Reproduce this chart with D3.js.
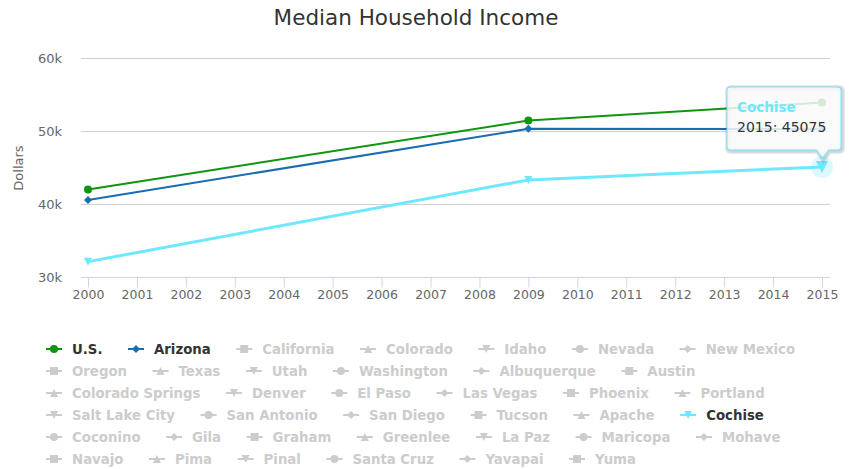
<!DOCTYPE html>
<html>
<head>
<meta charset="utf-8">
<script src="https://cdn.jsdelivr.net/npm/d3@7/dist/d3.min.js"></script>
<style>
  html, body { margin: 0; padding: 0; background: #fff; }
  svg { display: block; font-family: "DejaVu Sans", sans-serif; }
</style>
</head>
<body>
<svg id="chart" width="851" height="469"></svg>
<script>
// ---- data ----
const years = [2000, 2009, 2015];
const usValues = [41994, 51425, 53889];
const arizonaValues = [40558, 50296, 50255];
const cochiseValues = [32105, 43300, 45075];
const yTicks = [30000, 40000, 50000, 60000];
const yTickLabels = ["30k", "40k", "50k", "60k"];
const xTicks = [2000, 2001, 2002, 2003, 2004, 2005, 2006, 2007, 2008, 2009, 2010, 2011, 2012, 2013, 2014, 2015];
const legendNames = ["U.S.", "Arizona", "California", "Colorado", "Idaho", "Nevada", "New Mexico",
  "Oregon", "Texas", "Utah", "Washington", "Albuquerque", "Austin",
  "Colorado Springs", "Denver", "El Paso", "Las Vegas", "Phoenix", "Portland",
  "Salt Lake City", "San Antonio", "San Diego", "Tucson", "Apache", "Cochise",
  "Coconino", "Gila", "Graham", "Greenlee", "La Paz", "Maricopa", "Mohave",
  "Navajo", "Pima", "Pinal", "Santa Cruz", "Yavapai", "Yuma"];
const visibleNames = ["U.S.", "Arizona", "Cochise"];
const titleText = "Median Household Income";
const yAxisTitle = "Dollars";
const tooltipSeries = "Cochise";
const tooltipYear = 2015;
const tooltipValue = 45075;

// ---- styles ----
const colors = { "U.S.": "#0f950f", "Arizona": "#1a6db0", "Cochise": "#6ee8ff" };
const hiddenColor = "#cccccc";
const symbols = ["circle", "diamond", "square", "triangle", "triangle-down"];

const svg = d3.select("#chart");
const plotLeft = 81, plotRight = 830, plotTop = 58, plotBottom = 277;

const x = d3.scaleLinear().domain([2000, 2015]).range([88, 822]);
const y = d3.scaleLinear().domain([30000, 60000]).range([plotBottom, plotTop]);

// title
svg.append("text").attr("x", 416).attr("y", 25).attr("text-anchor", "middle")
  .attr("fill", "#333").style("font-size", "21.5px").text(titleText);

// grid
svg.append("g").selectAll("line").data(yTicks.filter(d => d > 30000)).join("line")
  .attr("x1", plotLeft).attr("x2", plotRight)
  .attr("y1", d => Math.round(y(d)) + 0.5).attr("y2", d => Math.round(y(d)) + 0.5)
  .attr("stroke", "#d0d0d0").attr("stroke-width", 1);

// y labels
svg.append("g").selectAll("text").data(yTicks).join("text")
  .attr("x", 62).attr("y", d => y(d) + 4.5).attr("text-anchor", "end")
  .attr("fill", "#666").style("font-size", "13px")
  .text((d, i) => yTickLabels[i]);

svg.append("text").attr("transform", "translate(23,168) rotate(-90)")
  .attr("text-anchor", "middle").attr("fill", "#666").style("font-size", "13px")
  .text(yAxisTitle);

// x axis
const xAxis = d3.axisBottom(x).tickValues(xTicks).tickFormat(d3.format("d"))
  .tickSize(10).tickPadding(3);
const gx = svg.append("g").attr("transform", `translate(0,${plotBottom + 0.5})`).call(xAxis);
gx.select(".domain").remove();
gx.append("line").attr("x1", plotLeft).attr("x2", plotRight).attr("stroke", "#ccd6eb");
gx.selectAll(".tick line").attr("stroke", "#ccd6eb");
gx.selectAll(".tick text").attr("fill", "#666").style("font-size", "12.5px")
  .style("font-family", "DejaVu Sans, sans-serif");

// symbol helper
function symbolPath(type, r) {
  switch (type) {
    case "circle": return d3.symbol(d3.symbolCircle, Math.PI * r * r)();
    case "diamond": return `M0,${-r}L${r},0L0,${r}L${-r},0Z`;
    case "square": return `M${-r},${-r}H${r}V${r}H${-r}Z`;
    case "triangle": return `M0,${-r}L${r},${r}L${-r},${r}Z`;
    case "triangle-down": return `M${-r},${-r}L${r},${-r}L0,${r}Z`;
  }
}

// series
const series = [
  { name: "U.S.", values: usValues, width: 2, sym: symbols[0] },
  { name: "Arizona", values: arizonaValues, width: 2, sym: symbols[1] },
  { name: "Cochise", values: cochiseValues, width: 3, sym: symbols[legendNames.indexOf("Cochise") % 5] }
];
const line = d3.line().x((d, i) => x(years[i])).y(d => y(d));

// halo for hovered point
svg.append("circle").attr("cx", x(tooltipYear)).attr("cy", y(tooltipValue)).attr("r", 11)
  .attr("fill", colors["Cochise"]).attr("fill-opacity", 0.25);

series.forEach(s => {
  svg.append("path").datum(s.values).attr("d", line)
    .attr("fill", "none").attr("stroke", colors[s.name]).attr("stroke-width", s.width)
    .attr("stroke-linejoin", "round");
  svg.append("g").selectAll("path").data(s.values).join("path")
    .attr("transform", (d, i) => `translate(${x(years[i])},${y(d)})`)
    .attr("d", (d, i) => symbolPath(s.sym, (s.name === tooltipSeries && years[i] === tooltipYear) ? 6 : 4))
    .attr("fill", colors[s.name]);
});

// tooltip
const tx = x(tooltipYear), ty = y(tooltipValue);
const bx0 = 727, bx1 = 841, by0 = 87, by1 = 150, rr = 3;
const tipX = tx + 0.5, tipY = ty - 9;
const tpath = `M${bx0 + rr},${by0}H${bx1 - rr}Q${bx1},${by0} ${bx1},${by0 + rr}V${by1 - rr}Q${bx1},${by1} ${bx1 - rr},${by1}` +
  `H${tipX + 6}L${tipX},${tipY}L${tipX - 6},${by1}H${bx0 + rr}Q${bx0},${by1} ${bx0},${by1 - rr}V${by0 + rr}Q${bx0},${by0} ${bx0 + rr},${by0}Z`;
const tg = svg.append("g");
[3, 2, 1].forEach(k => {
  tg.append("path").attr("d", tpath).attr("transform", `translate(1,1)`)
    .attr("fill", "none").attr("stroke", "#000").attr("stroke-opacity", 0.03 * k).attr("stroke-width", k * 2);
});
tg.append("path").attr("d", tpath).attr("fill", "rgba(249,249,249,0.85)")
  .attr("stroke", colors["Cochise"]).attr("stroke-width", 1);
tg.append("text").attr("x", 737).attr("y", 112).attr("fill", colors["Cochise"])
  .style("font-size", "13.5px").style("font-weight", "bold").text(tooltipSeries);
tg.append("text").attr("x", 737).attr("y", 132).attr("fill", "#333")
  .style("font-size", "14px").text(`${tooltipYear}: ${tooltipValue}`);

// legend
const lg = svg.append("g");
let lx = 45, row = 0;
const rowY0 = 349, rowH = 22, maxRight = 830;
legendNames.forEach((name, i) => {
  const vis = visibleNames.includes(name);
  const col = vis ? colors[name] : hiddenColor;
  const item = lg.append("g");
  const t = item.append("text").attr("x", 27).attr("y", 4.7)
    .style("font-size", "13.3px").style("font-weight", "bold")
    .attr("fill", vis ? "#333" : hiddenColor).text(name);
  const w = t.node().getComputedTextLength();
  if (lx + 27 + w > maxRight) { lx = 45; row++; }
  const cy = rowY0 + row * rowH;
  item.attr("transform", `translate(${lx},${cy})`);
  item.append("line").attr("x1", 1).attr("x2", 17).attr("y1", 0).attr("y2", 0)
    .attr("stroke", col).attr("stroke-width", 2);
  item.append("path").attr("transform", "translate(9,0)").attr("d", symbolPath(symbols[i % 5], 4))
    .attr("fill", col);
  lx += 27 + w + 24.5;
});
</script>
</body>
</html>
